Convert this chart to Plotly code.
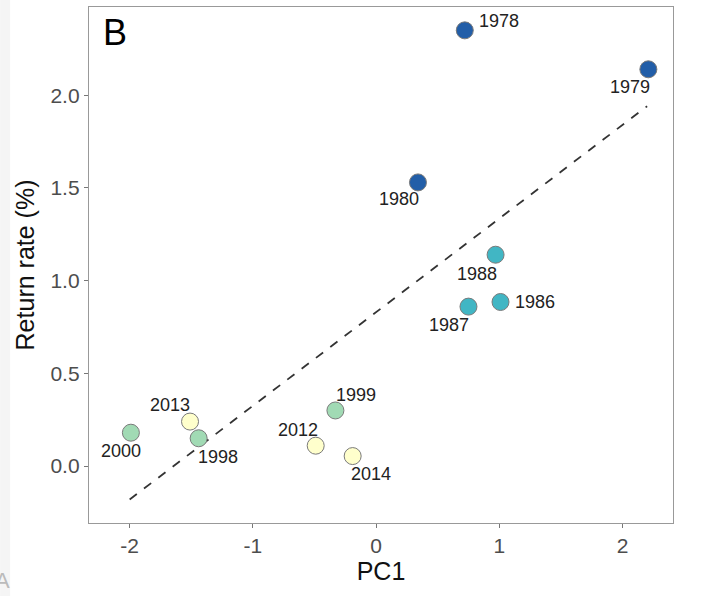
import plotly.graph_objects as go

# Data
years = ["1978", "1979", "1980", "1986", "1987", "1988",
         "1998", "1999", "2000", "2012", "2013", "2014"]
pc1 = [0.72, 2.21, 0.34, 1.01, 0.75, 0.97,
       -1.44, -0.33, -1.99, -0.49, -1.51, -0.19]
return_rate = [2.35, 2.14, 1.53, 0.885, 0.86, 1.14,
               0.15, 0.30, 0.18, 0.11, 0.24, 0.054]
groups = ["1978-80", "1978-80", "1978-80", "1986-88", "1986-88", "1986-88",
          "1998-00", "1998-00", "1998-00", "2012-14", "2012-14", "2012-14"]

# Regression line
fit_intercept = 0.83
fit_slope = 0.505
fit_x = [-2.0, 2.2]

x_ticks = [-2, -1, 0, 1, 2]
y_ticks = [0.0, 0.5, 1.0, 1.5, 2.0]

# Styles
FONT = "Liberation Sans, Arial"
group_colors = {"1978-80": "#225ea8", "1986-88": "#41b6c4",
                "1998-00": "#a1dab4", "2012-14": "#ffffcc"}
# label offsets in pixels (dx, dy), dy positive = down
label_offsets = {
    "1978": (34, -9), "1979": (-18, 18), "1980": (-19, 17),
    "1986": (34, 0), "1987": (-19, 18), "1988": (-19, 19),
    "1998": (19, 19), "1999": (21, -15), "2000": (-10, 18),
    "2012": (-18, -16), "2013": (-20, -17), "2014": (18, 18),
}

fig = go.Figure()

fig.add_trace(go.Scatter(
    x=fit_x, y=[fit_intercept + fit_slope * v for v in fit_x],
    mode="lines", line=dict(color="#333333", width=1.8, dash="dash"),
    hoverinfo="skip", showlegend=False))

fig.add_trace(go.Scatter(
    x=pc1, y=return_rate, mode="markers",
    marker=dict(size=17, color=[group_colors[g] for g in groups],
                line=dict(color="#7a7a7a", width=1)),
    showlegend=False))

for yr, xv, yv in zip(years, pc1, return_rate):
    dx, dy = label_offsets[yr]
    fig.add_annotation(x=xv, y=yv, text=yr, showarrow=False,
                       xshift=dx, yshift=-dy,
                       font=dict(family=FONT, size=18, color="#222222"))

fig.add_annotation(xref="paper", yref="paper", x=0.021, y=0.995, text="B",
                   showarrow=False, xanchor="left", yanchor="top",
                   font=dict(family=FONT, size=36, color="#000000"))

# faint light strip and cut-off panel letter from the neighbouring figure
fig.add_shape(type="rect", xref="paper", yref="paper",
              x0=-89 / 585, x1=-79 / 585, y0=-73 / 516, y1=523 / 516,
              fillcolor="#f5f5f5", line=dict(width=0), layer="below")
fig.add_annotation(xref="paper", yref="paper", x=-0.132, y=-0.112, text="A",
                   showarrow=False, xanchor="right", yanchor="middle",
                   font=dict(family=FONT, size=22, color="#bbbbbb"))

axis_common = dict(showgrid=False, zeroline=False, showline=True, mirror=True,
                   linecolor="#999999", linewidth=1.3, ticks="outside",
                   ticklen=4, tickcolor="#777777",
                   tickfont=dict(family=FONT, size=21, color="#4d4d4d"))

fig.update_xaxes(range=[-2.33, 2.41], tickvals=x_ticks,
                 ticktext=[str(t) for t in x_ticks],
                 title=dict(text="PC1", standoff=5,
                            font=dict(family=FONT, size=25, color="#111111")),
                 **axis_common)
fig.update_yaxes(range=[-0.307, 2.476], tickvals=y_ticks,
                 ticktext=[f"{t:.1f}" for t in y_ticks],
                 title=dict(text="Return rate (%)", standoff=8,
                            font=dict(family=FONT, size=25, color="#111111")),
                 **axis_common)

fig.update_layout(width=702, height=596,
                  margin=dict(l=89, r=29, t=7, b=73),
                  paper_bgcolor="white", plot_bgcolor="white")

fig.write_html("out.html")
